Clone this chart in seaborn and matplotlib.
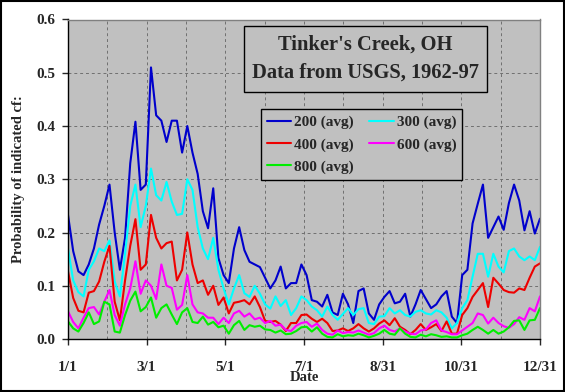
import numpy as np
import pandas as pd
import matplotlib
matplotlib.use('Agg')
import matplotlib.pyplot as plt
from matplotlib.patches import Rectangle
import seaborn as sns

# giorno dell'anno (0 = 1/1), un valore ogni 4 giorni
days = list(range(0, 365, 4))

p200 = [0.233, 0.165, 0.127, 0.12, 0.14, 0.17, 0.215, 0.25, 0.29, 0.2,
        0.13, 0.19, 0.33, 0.408, 0.28, 0.29, 0.51, 0.42, 0.41, 0.37,
        0.41, 0.41, 0.35, 0.40, 0.35, 0.31, 0.24, 0.208, 0.283, 0.152,
        0.12, 0.105, 0.17, 0.21, 0.167, 0.145, 0.14, 0.135, 0.115, 0.095,
        0.11, 0.136, 0.095, 0.105, 0.105, 0.14, 0.12, 0.073, 0.07, 0.061,
        0.083, 0.05, 0.045, 0.085, 0.065, 0.03, 0.09, 0.095, 0.048, 0.036,
        0.065, 0.079, 0.09, 0.067, 0.07, 0.085, 0.042, 0.065, 0.092, 0.075,
        0.058, 0.065, 0.08, 0.09, 0.042, 0.03, 0.12, 0.13, 0.217, 0.254,
        0.29, 0.19, 0.21, 0.23, 0.205, 0.255, 0.29, 0.26, 0.204, 0.24,
        0.198, 0.226]

p300 = [0.17, 0.11, 0.088, 0.08, 0.13, 0.146, 0.17, 0.165, 0.185, 0.108,
        0.08, 0.16, 0.25, 0.29, 0.21, 0.25, 0.32, 0.27, 0.26, 0.295,
        0.258, 0.233, 0.235, 0.3, 0.28, 0.21, 0.17, 0.15, 0.19, 0.13,
        0.095, 0.065, 0.095, 0.12, 0.086, 0.079, 0.1, 0.085, 0.065, 0.057,
        0.08, 0.062, 0.073, 0.045, 0.058, 0.08, 0.073, 0.061, 0.054, 0.042,
        0.061, 0.045, 0.036, 0.047, 0.058, 0.045, 0.056, 0.058, 0.03, 0.028,
        0.042, 0.043, 0.058, 0.048, 0.054, 0.045, 0.042, 0.051, 0.054, 0.048,
        0.046, 0.054, 0.05, 0.04, 0.02, 0.03, 0.058, 0.073, 0.117, 0.16,
        0.16, 0.117, 0.16, 0.136, 0.125, 0.165, 0.17, 0.155, 0.148, 0.155,
        0.148, 0.173]

p400 = [0.127, 0.077, 0.053, 0.05, 0.087, 0.09, 0.108, 0.145, 0.175, 0.07,
        0.035, 0.11, 0.175, 0.225, 0.13, 0.14, 0.233, 0.19, 0.17, 0.18,
        0.183, 0.11, 0.13, 0.2, 0.14, 0.105, 0.11, 0.083, 0.1, 0.064,
        0.078, 0.048, 0.068, 0.07, 0.073, 0.065, 0.08, 0.06, 0.034, 0.032,
        0.034, 0.027, 0.015, 0.03, 0.03, 0.045, 0.046, 0.038, 0.032, 0.038,
        0.03, 0.015, 0.016, 0.02, 0.015, 0.02, 0.028, 0.02, 0.014, 0.02,
        0.029, 0.035, 0.026, 0.039, 0.023, 0.017, 0.009, 0.017, 0.028, 0.017,
        0.022, 0.028, 0.015, 0.033, 0.01, 0.01, 0.045, 0.058, 0.079, 0.092,
        0.105, 0.06, 0.115, 0.104, 0.092, 0.088, 0.087, 0.095, 0.092, 0.115,
        0.136, 0.142]

p600 = [0.052, 0.032, 0.02, 0.04, 0.058, 0.06, 0.046, 0.07, 0.092, 0.045,
        0.025, 0.065, 0.095, 0.146, 0.085, 0.11, 0.1, 0.075, 0.14, 0.1,
        0.096, 0.055, 0.064, 0.12, 0.065, 0.05, 0.048, 0.04, 0.04, 0.028,
        0.04, 0.03, 0.048, 0.053, 0.042, 0.048, 0.037, 0.04, 0.03, 0.034,
        0.025, 0.027, 0.017, 0.015, 0.025, 0.03, 0.032, 0.023, 0.029, 0.017,
        0.01, 0.008, 0.016, 0.011, 0.013, 0.012, 0.016, 0.012, 0.008, 0.011,
        0.02, 0.025, 0.017, 0.014, 0.02, 0.014, 0.01, 0.009, 0.016, 0.018,
        0.03, 0.035, 0.016, 0.013, 0.009, 0.009, 0.016, 0.023, 0.03, 0.048,
        0.045, 0.029, 0.04, 0.03, 0.024, 0.021, 0.028, 0.041, 0.036, 0.058,
        0.052, 0.08]

p800 = [0.033, 0.02, 0.014, 0.03, 0.05, 0.028, 0.033, 0.07, 0.065, 0.014,
        0.012, 0.045, 0.072, 0.089, 0.052, 0.06, 0.078, 0.04, 0.058, 0.065,
        0.046, 0.028, 0.05, 0.058, 0.032, 0.03, 0.042, 0.027, 0.032, 0.022,
        0.025, 0.01, 0.026, 0.034, 0.017, 0.026, 0.023, 0.025, 0.018, 0.017,
        0.012, 0.016, 0.009, 0.01, 0.015, 0.022, 0.023, 0.014, 0.022, 0.01,
        0.004, 0.003, 0.009, 0.005, 0.007, 0.006, 0.01, 0.007, 0.003, 0.006,
        0.01, 0.017, 0.01, 0.008, 0.02, 0.01, 0.004, 0.003, 0.008, 0.005,
        0.009, 0.007, 0.004, 0.005, 0.003, 0.003, 0.007, 0.01, 0.017, 0.023,
        0.017, 0.01, 0.017, 0.01, 0.014, 0.022, 0.034, 0.035, 0.017, 0.035,
        0.036, 0.058]

series_names = ['200 (avg)', '300 (avg)', '400 (avg)', '600 (avg)', '800 (avg)']
series_colors = ['#0000CC', '#00FFFF', '#EE0000', '#FF00FF', '#00EE00']
date_labels = ['1/1', '3/1', '5/1', '7/1', '8/31', '10/31', '12/31']

df = pd.DataFrame({
    'day': days * 5,
    'prob': p200 + p300 + p400 + p600 + p800,
    'series': np.repeat(series_names, len(days)),
})

sns.set_style('ticks')
plt.rcParams['font.family'] = ['Liberation Serif', 'DejaVu Serif']
plt.rcParams['font.weight'] = 'bold'

fig = plt.figure(figsize=(5.65, 3.92), dpi=100, facecolor='white')
ax = fig.add_axes([68 / 565, 1 - 339 / 392, 472 / 565, 319.5 / 392])
ax.set_facecolor('#C0C0C0')

sns.lineplot(data=df, x='day', y='prob', hue='series', hue_order=series_names,
             palette=series_colors, linewidth=1.5, ax=ax)

# assi
ax.set_xlim(0, 364)
ax.set_ylim(0, 0.6)
ax.set_xticks(np.linspace(0, 364, 7))
ax.set_xticklabels(date_labels)
ax.set_xticks(np.linspace(0, 364, 13), minor=True)
ax.set_yticks(np.arange(0, 0.61, 0.1))
ax.set_yticklabels([f'{v:.1f}' for v in np.arange(0, 0.61, 0.1)])
ax.tick_params(axis='x', which='major', length=4, width=1, pad=12, labelsize=11)
ax.tick_params(axis='x', which='minor', length=0)
ax.tick_params(axis='y', length=4, width=1, pad=5, labelsize=11)
for lab in ax.get_xticklabels() + ax.get_yticklabels():
    lab.set_fontweight('bold')

ax.grid(True, which='both', axis='x', color='#707070', linestyle=(0, (3, 3)), linewidth=0.7)
ax.grid(True, which='major', axis='y', color='#707070', linestyle=(0, (3, 3)), linewidth=0.7)
for s in ['left', 'bottom']:
    ax.spines[s].set_color('black')
    ax.spines[s].set_linewidth(1)
for s in ['top', 'right']:
    ax.spines[s].set_color('#808080')
    ax.spines[s].set_linewidth(1)

ax.set_xlabel('Date', fontsize=10.5, fontweight='bold', va='center')
ax.xaxis.set_label_coords(0.5, -0.119)
ax.set_ylabel('Probability of indicated cf:', fontsize=10.5, fontweight='bold', va='center')
ax.yaxis.set_label_coords(-0.105, 0.5)

# legenda in ordine per righe
handles, labels = ax.get_legend_handles_labels()
order = [0, 2, 4, 1, 3]
leg = ax.legend([handles[i] for i in order], [labels[i] for i in order],
                ncol=2, loc='upper left', bbox_to_anchor=(260.7 / 565, 1 - 109.3 / 392),
                bbox_transform=fig.transFigure, borderaxespad=0, frameon=True, fancybox=False,
                facecolor='#C0C0C0', edgecolor='black', framealpha=1,
                prop={'family': 'Liberation Serif', 'weight': 'bold', 'size': 11},
                handlelength=1.6, handletextpad=0.2, columnspacing=1.0,
                labelspacing=0.55, borderpad=0.4)
leg.get_frame().set_linewidth(1)
for ln in leg.get_lines():
    ln.set_linewidth(1.5)

# riquadro del titolo
fig.patches.append(Rectangle((244.3 / 565, 1 - 91.7 / 392), 242.4 / 565, 65.7 / 392,
                             transform=fig.transFigure, facecolor='#C0C0C0',
                             edgecolor='black', linewidth=1, zorder=2))
fig.text(365.5 / 565, 1 - 45 / 392, "Tinker's Creek, OH", ha='center', va='center',
         fontsize=14.8, fontweight='bold', zorder=3)
fig.text(365.5 / 565, 1 - 73 / 392, 'Data from USGS, 1962-97', ha='center', va='center',
         fontsize=14.8, fontweight='bold', zorder=3)

# bordo esterno
fig.patches.append(Rectangle((0.001, 0.002), 0.997, 0.995, transform=fig.transFigure,
                             facecolor='none', edgecolor='black', linewidth=1.5, zorder=4))

fig.savefig('out.png', dpi=100, facecolor='white')
